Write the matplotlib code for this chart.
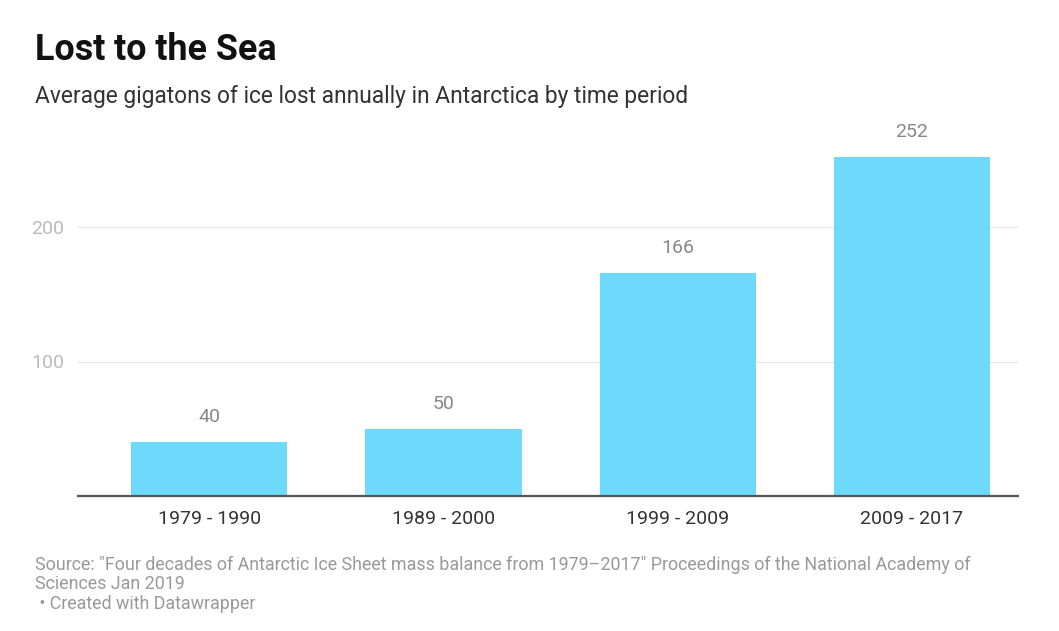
import matplotlib
matplotlib.use("Agg")
import matplotlib.pyplot as plt

periods = ["1979 - 1990", "1989 - 2000", "1999 - 2009", "2009 - 2017"]
values = [40, 50, 166, 252]
yticks = [100, 200]

plt.rcParams['font.family'] = ['Roboto', 'DejaVu Sans']

W, H = 1059, 631
fig = plt.figure(figsize=(W / 100, H / 100), dpi=100)
fig.patch.set_facecolor("white")

left, right, bottom = 78, 1018, 496
ymax = 260
px_per_unit = 134.5 / 100
top = bottom - ymax * px_per_unit
ax = fig.add_axes([left / W, 1 - bottom / H, (right - left) / W, (bottom - top) / H])

x = list(range(len(periods)))
ax.bar(x, values, width=0.667, color="#6dd9fb", zorder=2)
ax.set_xlim(-0.56, 3.453)
ax.set_ylim(0, ymax)

for xi, v in zip(x, values):
    ax.text(xi, v + 25 / px_per_unit, str(v), ha="center", va="center", fontsize=14, color="#888888")

ax.set_yticks(yticks)
ax.set_yticklabels([str(t) for t in yticks], fontsize=14, color="#bbbbbb")
ax.yaxis.grid(True, color="#e9e9e9", linewidth=1)
ax.set_axisbelow(True)
ax.tick_params(axis="y", length=0, pad=10)
ax.set_xticks(x)
ax.set_xticklabels(periods, fontsize=14, color="#333333")
ax.tick_params(axis="x", length=0, pad=10)

for s in ["top", "right", "left"]:
    ax.spines[s].set_visible(False)
ax.spines["bottom"].set_color("#555555")
ax.spines["bottom"].set_linewidth(1.6)

fig.text(35 / W, 1 - 50 / H, "Lost to the Sea", fontsize=25.8, fontweight="bold",
         color="#111111", va="center", ha="left")
fig.text(35 / W, 1 - 97 / H, "Average gigatons of ice lost annually in Antarctica by time period",
         fontsize=16.4, color="#333333", va="center", ha="left")
fig.text(35 / W, 1 - 565 / H,
         "Source: \"Four decades of Antarctic Ice Sheet mass balance from 1979\u20132017\" Proceedings of the National Academy of",
         fontsize=12.9, color="#999999", va="center", ha="left")
fig.text(35 / W, 1 - 584 / H, "Sciences Jan 2019", fontsize=12.9, color="#999999", va="center", ha="left")
fig.text(35 / W, 1 - 604 / H, " \u2022 Created with Datawrapper", fontsize=12.9, color="#999999",
         va="center", ha="left")

fig.savefig("out.png", dpi=100)
